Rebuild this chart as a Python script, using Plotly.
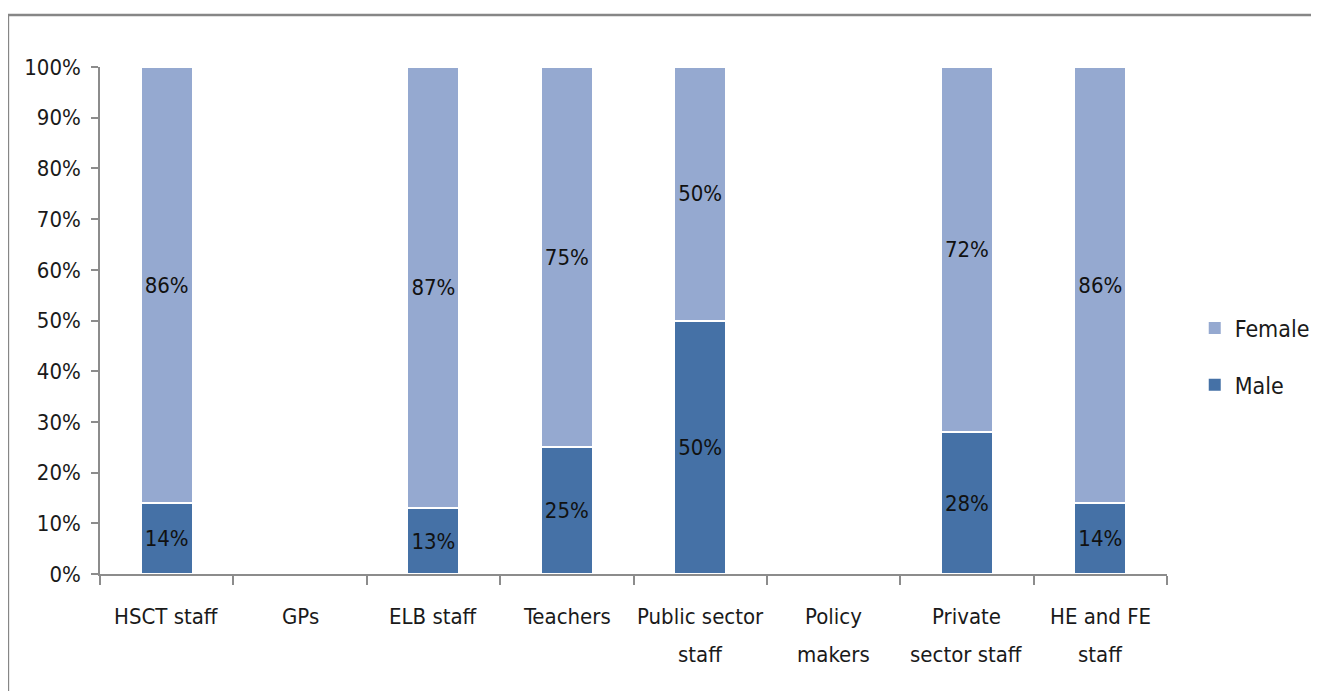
import plotly.graph_objects as go

categories = ["HSCT staff", "GPs", "ELB staff", "Teachers", "Public sector<br>staff",
              "Policy<br>makers", "Private<br>sector staff", "HE and FE<br>staff"]
male = [0.14, None, 0.13, 0.25, 0.50, None, 0.28, 0.14]
female = [0.86, None, 0.87, 0.75, 0.50, None, 0.72, 0.86]

MALE_C = "#4571A6"
FEMALE_C = "#95A9D0"
FONT = "DejaVu Sans Condensed, Liberation Sans Narrow, sans-serif"
TXT = "#1a1a1a"

def lbl(vals):
    return ["" if v is None else f"{round(v*100)}%" for v in vals]

fig = go.Figure()
fig.add_trace(go.Bar(
    x=categories, y=male, name="Male",
    marker=dict(color=MALE_C, line=dict(color="white", width=2)),
    text=lbl(male), textposition="inside", insidetextanchor="middle",
    textfont=dict(size=22, color="#111111", family=FONT),
    textangle=0, showlegend=False,
))
fig.add_trace(go.Bar(
    x=categories, y=female, name="Female",
    marker=dict(color=FEMALE_C, line=dict(color="white", width=2)),
    text=lbl(female), textposition="inside", insidetextanchor="middle",
    textfont=dict(size=22, color="#111111", family=FONT),
    textangle=0, showlegend=False,
))
# legend entries with square keys
fig.add_trace(go.Scatter(x=[None], y=[None], mode="markers", name="Female", legend="legend",
                         marker=dict(symbol="square", size=12, color=FEMALE_C), showlegend=True))
fig.add_trace(go.Scatter(x=[None], y=[None], mode="markers", name="Male", legend="legend2",
                         marker=dict(symbol="square", size=12, color=MALE_C), showlegend=True))

# category labels, two rows with wide line spacing
annotations = []
for c in categories:
    parts = c.split("<br>")
    for i, p in enumerate(parts):
        annotations.append(dict(
            x=c, xref="x", y=0, yref="paper", yshift=-42 - 38 * i, yanchor="middle",
            text=p, showarrow=False, font=dict(size=22, family=FONT, color=TXT)))

fig.update_layout(
    barmode="stack",
    bargap=0.61,
    width=1319, height=691,
    margin=dict(l=92, r=155, t=59, b=125),
    plot_bgcolor="white", paper_bgcolor="white",
    showlegend=True,
    font=dict(family=FONT, size=22, color=TXT),
    uniformtext=dict(minsize=10, mode="show"),
    legend=dict(x=1.026, y=0.485, xanchor="left", yanchor="middle", itemwidth=30,
                font=dict(size=23, family=FONT, color=TXT), bgcolor="rgba(0,0,0,0)"),
    legend2=dict(x=1.026, y=0.373, xanchor="left", yanchor="middle", itemwidth=30,
                 font=dict(size=23, family=FONT, color=TXT), bgcolor="rgba(0,0,0,0)"),
    xaxis=dict(type="category", categoryorder="array", categoryarray=categories,
               showline=True, linecolor="#8c8c8c", linewidth=1.5, ticks="outside",
               tickson="boundaries", ticklen=9, tickcolor="#8c8c8c", tickwidth=1.5,
               showgrid=False, showticklabels=False),
    yaxis=dict(range=[0, 1], dtick=0.1, tickformat=".0%", showline=True, linecolor="#8c8c8c",
               linewidth=1.5, ticks="outside", ticklen=7, tickcolor="#8c8c8c", tickwidth=1.5,
               showgrid=False, zeroline=False, ticklabelstandoff=6,
               tickfont=dict(size=22, family=FONT, color=TXT)),
    annotations=annotations,
    shapes=[dict(type="rect", xref="paper", yref="paper", x0=-0.0863, y0=-0.4, x1=1.3, y1=1.1026,
                 line=dict(color="#868686", width=2.5), fillcolor="rgba(0,0,0,0)", layer="below")],
)

fig.write_html("out.html")
